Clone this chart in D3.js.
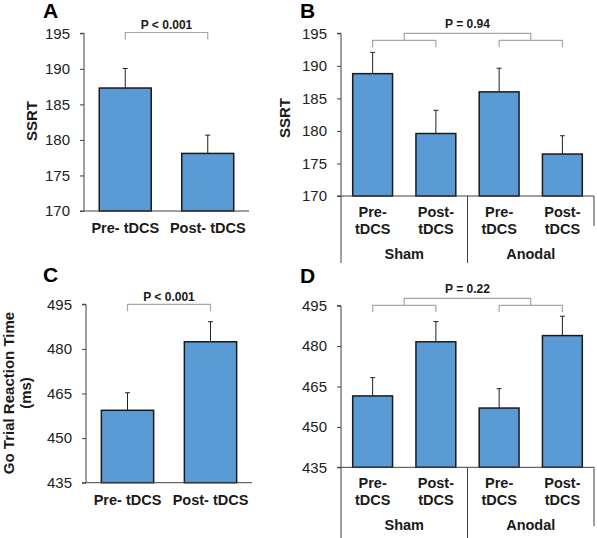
<!DOCTYPE html>
<html>
<head>
<meta charset="utf-8">
<script src="https://cdn.jsdelivr.net/npm/d3@7"></script>
<style>
  html, body { margin: 0; padding: 0; background: #fff; }
  svg { display: block; font-family: "Liberation Sans", Arial, sans-serif; }
</style>
</head>
<body>
<svg id="chart" width="597" height="538"></svg>
<script>
// ---------------- DATA ----------------
const simpleCats = ["Pre- tDCS", "Post- tDCS"];
const groupCats = ["Sham Pre", "Sham Post", "Anodal Pre", "Anodal Post"];
const groupSubLine1 = ["Pre-", "Post-", "Pre-", "Post-"];
const groupSubLine2 = ["tDCS", "tDCS", "tDCS", "tDCS"];
const groupNames = ["Sham", "Anodal"];

const ssrtA = [187.3, 178.1];
const ssrtAErr = [2.75, 2.57];
const ssrtB = [188.8, 179.6, 186.0, 176.45];
const ssrtBErr = [3.27, 3.57, 3.63, 2.81];

const rtC = [459.35, 482.4];
const rtCErr = [5.9, 6.75];
const rtD = [461.5, 481.6, 457.0, 483.9];
const rtDErr = [6.8, 7.5, 7.2, 7.2];

const ssrtTicks = [170, 175, 180, 185, 190, 195];
const rtTicks = [435, 450, 465, 480, 495];

const pLabels = ["P < 0.001", "P = 0.94", "P < 0.001", "P = 0.22"];
const panelLetters = ["A", "B", "C", "D"];
const yTitles = ["SSRT", "SSRT", "Go Trial Reaction Time|(ms)", ""];

// ---------------- STYLE ----------------
const barFill = "#5b9bd5";
const barStroke = "#1a1a1a";
const axisColor = "#404040";
const bracketColor = "#a6a6a6";

const svg = d3.select("#chart");

function drawPanel(cfg) {
  const g = svg.append("g");
  const x = d3.scaleBand().domain(cfg.cats).range([cfg.x0, cfg.x1])
    .paddingInner(0.37).paddingOuter(0.185);
  const y = d3.scaleLinear().domain([cfg.ticks[0], cfg.ticks[cfg.ticks.length - 1]])
    .range([cfg.yb, cfg.yt]);

  // bars
  g.selectAll("rect.bar").data(cfg.values).join("rect")
    .attr("x", (d, i) => x(cfg.cats[i]))
    .attr("y", d => y(d))
    .attr("width", x.bandwidth())
    .attr("height", d => y(cfg.ticks[0]) - y(d))
    .attr("fill", barFill)
    .attr("stroke", barStroke)
    .attr("stroke-width", 1.5);

  // error bars (upward only)
  const cx = i => x(cfg.cats[i]) + x.bandwidth() / 2;
  cfg.values.forEach((v, i) => {
    g.append("line").attr("x1", cx(i)).attr("x2", cx(i))
      .attr("y1", y(v)).attr("y2", y(v + cfg.errs[i]))
      .attr("stroke", "#222").attr("stroke-width", 1);
    g.append("line").attr("x1", cx(i) - 2.5).attr("x2", cx(i) + 2.5)
      .attr("y1", y(v + cfg.errs[i])).attr("y2", y(v + cfg.errs[i]))
      .attr("stroke", "#222").attr("stroke-width", 1);
  });

  // y axis
  const yAxis = d3.axisLeft(y).tickValues(cfg.ticks).tickSize(4).tickPadding(10)
    .tickFormat(d3.format("d"));
  const ya = g.append("g").attr("transform", `translate(${cfg.x0},0)`).call(yAxis);
  ya.select(".domain").attr("stroke", axisColor).attr("d", `M-4,${cfg.yb}H0V${cfg.yt}H-4`);
  ya.selectAll(".tick line").attr("stroke", axisColor);
  ya.selectAll(".tick text").attr("fill", "#222").style("font-size", "15px")
    .style("font-family", "'Liberation Sans', Arial, sans-serif");

  // x axis baseline
  const xAxis = d3.axisBottom(x).tickSize(0).tickFormat("");
  const xa = g.append("g").attr("transform", `translate(0,${cfg.yb})`).call(xAxis);
  xa.select(".domain").attr("stroke", axisColor).attr("d", `M${cfg.x0},0H${cfg.x1}`);

  const labelSize = "14.5px";
  if (!cfg.grouped) {
    cfg.cats.forEach((c, i) => {
      g.append("text").attr("x", cx(i)).attr("y", cfg.yb + 22)
        .attr("text-anchor", "middle").style("font-size", labelSize).style("font-weight", "bold")
        .attr("fill", "#1a1a1a").text(c);
    });
    // single bracket
    const by = cfg.bracketY;
    g.append("path")
      .attr("d", `M${cx(0)},${by + 7}V${by}H${cx(1)}V${by + 7}`)
      .attr("fill", "none").attr("stroke", bracketColor).attr("stroke-width", 1.2);
    g.append("text").attr("x", (cx(0) + cx(1)) / 2).attr("y", by - 3.5)
      .attr("text-anchor", "middle").style("font-size", "12px").style("font-weight", "bold")
      .attr("fill", "#1a1a1a").text(cfg.p);
  } else {
    // group separators
    const step = x.step();
    const mid = cfg.x0 + step * 2;
    [[cfg.x0, cfg.sepLen], [mid, cfg.sepLen], [cfg.x1, cfg.rightLen]].forEach(([sx, len]) => {
      g.append("line").attr("x1", sx).attr("x2", sx)
        .attr("y1", cfg.yb).attr("y2", cfg.yb + len)
        .attr("stroke", axisColor).attr("stroke-width", 1);
    });
    cfg.cats.forEach((c, i) => {
      g.append("text").attr("x", cx(i)).attr("y", cfg.yb + 21)
        .attr("text-anchor", "middle").style("font-size", labelSize).style("font-weight", "bold")
        .attr("fill", "#1a1a1a").text(groupSubLine1[i]);
      g.append("text").attr("x", cx(i)).attr("y", cfg.yb + 38)
        .attr("text-anchor", "middle").style("font-size", labelSize).style("font-weight", "bold")
        .attr("fill", "#1a1a1a").text(groupSubLine2[i]);
    });
    groupNames.forEach((n, k) => {
      g.append("text").attr("x", cfg.x0 + step * (2 * k + 1)).attr("y", cfg.yb + 63)
        .attr("text-anchor", "middle").style("font-size", labelSize).style("font-weight", "bold")
        .attr("fill", "#1a1a1a").text(n);
    });
    // nested brackets
    const by = cfg.bracketY;
    const lowY = by + 7;
    const m1 = (cx(0) + cx(1)) / 2, m2 = (cx(2) + cx(3)) / 2;
    g.append("path").attr("d", `M${m1},${lowY}V${by}H${m2}V${lowY}`)
      .attr("fill", "none").attr("stroke", bracketColor).attr("stroke-width", 1.2);
    [[0, 1], [2, 3]].forEach(([a, b]) => {
      g.append("path").attr("d", `M${cx(a)},${lowY + 7}V${lowY}H${cx(b)}V${lowY + 7}`)
        .attr("fill", "none").attr("stroke", bracketColor).attr("stroke-width", 1.2);
    });
    g.append("text").attr("x", (m1 + m2) / 2).attr("y", by - 5)
      .attr("text-anchor", "middle").style("font-size", "12px").style("font-weight", "bold")
      .attr("fill", "#1a1a1a").text(cfg.p);
  }

  // panel letter
  g.append("text").attr("x", cfg.letterX).attr("y", cfg.letterY)
    .style("font-size", "21px").style("font-weight", "bold").attr("fill", "#000")
    .text(cfg.letter);

  // y title
  if (cfg.title) {
    const lines = cfg.title.split("|");
    const tg = g.append("text").attr("transform", `translate(${cfg.titleX},${cfg.titleY}) rotate(-90)`)
      .attr("text-anchor", "middle").style("font-size", "15px").style("font-weight", "bold")
      .attr("fill", "#1a1a1a");
    lines.forEach((l, k) => {
      tg.append("tspan").attr("x", 0).attr("dy", k === 0 ? 0 : 17).text(l);
    });
  }
}

drawPanel({cats: simpleCats, values: ssrtA, errs: ssrtAErr, ticks: ssrtTicks,
  x0: 84, x1: 249, yt: 33.3, yb: 211, grouped: false, bracketY: 32.5,
  p: pLabels[0], letter: panelLetters[0], letterX: 43, letterY: 18,
  title: yTitles[0], titleX: 37, titleY: 121});

drawPanel({cats: groupCats, values: ssrtB, errs: ssrtBErr, ticks: ssrtTicks,
  x0: 341, x1: 594, yt: 33.3, yb: 196, grouped: true, bracketY: 33.3,
  sepLen: 67, rightLen: 30,
  p: pLabels[1], letter: panelLetters[1], letterX: 300, letterY: 18,
  title: yTitles[1], titleX: 290, titleY: 118});

drawPanel({cats: simpleCats, values: rtC, errs: rtCErr, ticks: rtTicks,
  x0: 86, x1: 252, yt: 304.3, yb: 482.7, grouped: false, bracketY: 304.3,
  p: pLabels[2], letter: panelLetters[2], letterX: 43, letterY: 282,
  title: yTitles[2], titleX: 14, titleY: 393});

drawPanel({cats: groupCats, values: rtD, errs: rtDErr, ticks: rtTicks,
  x0: 341, x1: 594, yt: 305.7, yb: 467.3, grouped: true, bracketY: 298.3,
  sepLen: 72, rightLen: 59,
  p: pLabels[3], letter: panelLetters[3], letterX: 300, letterY: 283,
  title: yTitles[3]});
</script>
</body>
</html>
